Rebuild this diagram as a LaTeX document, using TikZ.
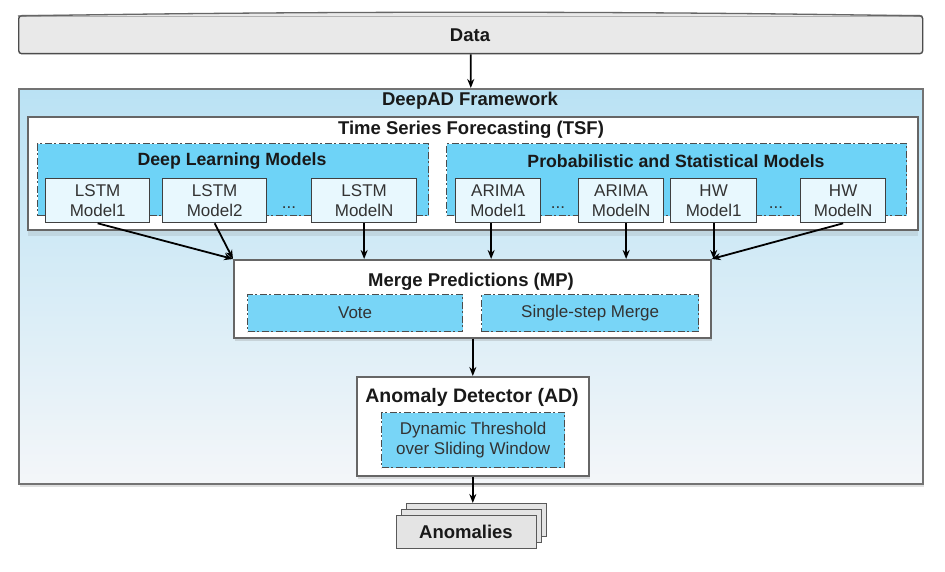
\documentclass[tikz,border=0pt]{standalone}
\usepackage{fontspec}
\setmainfont{Liberation Sans}
\usetikzlibrary{shadows,arrows.meta,calc}
\definecolor{grpblue}{HTML}{6ED3F7}
\definecolor{boxblue}{HTML}{78D5F7}
\definecolor{modelfill}{HTML}{E8F8FE}
\definecolor{datafill}{HTML}{E9E9E9}
\definecolor{anomfill}{HTML}{E4E4E4}
\definecolor{frametop}{HTML}{BAE2F4}
\definecolor{framebot}{HTML}{F4F6F9}
\begin{document}
\begin{tikzpicture}[x=1pt,y=-1pt,
  hdr/.style={font=\fontsize{18.5}{22}\selectfont\bfseries, text=black!90, inner sep=0},
  mtxt/.style={font=\fontsize{17}{20}\selectfont, text=black!80},
  modelbox/.style={draw=black!75, line width=1.3, fill=modelfill, mtxt, align=center, inner sep=0, anchor=north west},
  grp/.style={draw=black!70, line width=1.3, dash pattern=on 7pt off 2.5pt on 2pt off 2.5pt, fill=grpblue, anchor=north west, inner sep=0},
  subbox/.style={draw=black!70, line width=1.3, dash pattern=on 7pt off 2.5pt on 2pt off 2.5pt, fill=boxblue, anchor=north west, inner sep=0, mtxt, align=center},
  whitebox/.style={draw=black!60, line width=1.6, fill=white, anchor=north west, inner sep=0},
  shad/.style={drop shadow={opacity=0.25, shadow xshift=1pt, shadow yshift=-3pt}},
  sheet/.style={draw=black!65, line width=1.2, fill=anomfill, anchor=north west, inner sep=0, minimum width=140, minimum height=33},
  arr/.style={-{Stealth[length=9pt,width=7pt]}, line width=1.8, black},
  dots/.style={mtxt, inner sep=0}
]
\useasboundingbox (0,0) rectangle (945,572);
\fill[white] (0,0) rectangle (945,572);

% Data
\node[draw=black!70, line width=1.4, fill=datafill, rounded corners=3, minimum width=904, minimum height=38, anchor=north west, inner sep=0] (data) at (18,15) {};
\fill[datafill] (19,16) .. controls (300,11) and (640,11) .. (921,16) -- cycle;
\draw[black!60, line width=1.3] (18,16) .. controls (300,11) and (640,11) .. (922,16);
\node[hdr] (datat) at (470,35) {Data};

% Framework
\node[draw=black!55, line width=1.6, top color=frametop, bottom color=framebot, minimum width=904, minimum height=395, anchor=north west, inner sep=0, shad] (fw) at (18,88) {};
\node[hdr] (fwt) at (470,101) {DeepAD Framework};
\draw[arr] (data.south) -- (fw.north);

% TSF
\node[whitebox, minimum width=890, minimum height=113, drop shadow={opacity=0.18, shadow xshift=0pt, shadow yshift=-6pt}] (tsf) at (27,116) {};
\node[hdr] (tsft) at (471,130) {Time Series Forecasting (TSF)};

% Groups
\node[grp, minimum width=391, minimum height=72] (dl) at (37,143) {};
\node[hdr, font=\fontsize{17.7}{21}\selectfont\bfseries] (dlt) at (232,161) {Deep Learning Models};
\node[grp, minimum width=460, minimum height=72] (ps) at (446,143) {};
\node[hdr, font=\fontsize{17.7}{21}\selectfont\bfseries] (pst) at (676,161) {Probabilistic and Statistical Models};

% Models
\node[modelbox, minimum width=104, minimum height=44] (l1) at (45,178) {LSTM\\Model1};
\node[modelbox, minimum width=104, minimum height=44] (l2) at (162,178) {LSTM\\Model2};
\node[dots] (d1) at (289,208) {...};
\node[modelbox, minimum width=105, minimum height=44] (ln) at (311,178) {LSTM\\ModelN};
\node[modelbox, minimum width=85, minimum height=44] (a1) at (455,178) {ARIMA\\Model1};
\node[dots] (d2) at (558,208) {...};
\node[modelbox, minimum width=85, minimum height=44] (an) at (578,178) {ARIMA\\ModelN};
\node[modelbox, minimum width=86, minimum height=44] (h1) at (670,178) {HW\\Model1};
\node[dots] (d3) at (776,208) {...};
\node[modelbox, minimum width=85, minimum height=44] (hn) at (800,178) {HW\\ModelN};

% Merge predictions
\node[whitebox, minimum width=477, minimum height=78, shad] (mp) at (233,259) {};
\node[hdr] (mpt) at (471,282) {Merge Predictions (MP)};
\node[subbox, minimum width=215, minimum height=37] (vote) at (247,294) {Vote};
\node[subbox, minimum width=217, minimum height=37] (ssm) at (481,294) {Single-step Merge};

% Arrows to MP
\draw[arr] (l1.south) -- (mp.north west);
\draw[arr] (l2.south) -- (mp.north west);
\draw[arr] (ln.south) -- (ln.south |- mp.north);
\draw[arr] ($(a1.south)+(-7,0)$) -- ($(a1.south |- mp.north)+(-7,0)$);
\draw[arr] ($(an.south)+(5,0)$) -- ($(an.south |- mp.north)+(5,0)$);
\draw[arr] (h1.south) -- (h1.south |- mp.north);
\draw[arr] (hn.south) -- (mp.north east);

% Anomaly detector
\node[whitebox, minimum width=232, minimum height=99, shad] (ad) at (356,376) {};
\node[hdr, font=\fontsize{19.5}{23}\selectfont\bfseries] (adt) at (472,397) {Anomaly Detector (AD)};
\node[subbox, minimum width=183, minimum height=55] (dyn) at (381,412) {Dynamic Threshold\\over Sliding Window};
\draw[arr] (mp.south -| ad.north) -- (ad.north);

% Anomalies
\node[sheet] (s3) at (406,503) {};
\node[sheet] (s2) at (401,509) {};
\node[sheet] (s1) at (396,515) {};
\node[hdr] (anomt) at (466,532) {Anomalies};
\draw[arr] (ad.south) -- (ad.south |- s3.north);
\end{tikzpicture}
\end{document}
